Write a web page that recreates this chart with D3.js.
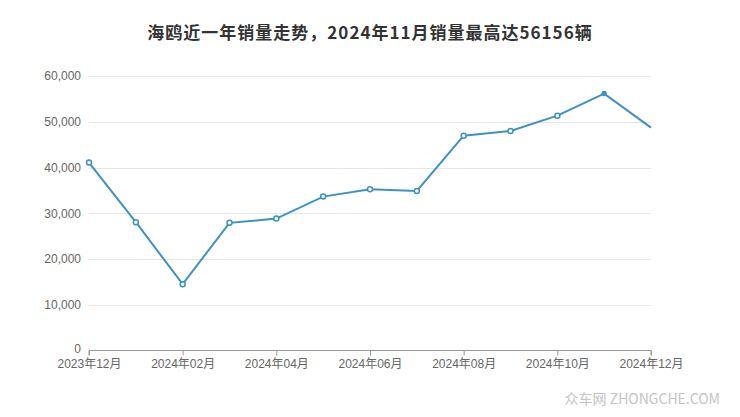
<!DOCTYPE html>
<html>
<head>
<meta charset="utf-8">
<script src="https://cdn.jsdelivr.net/npm/d3@7"></script>
<style>
html,body{margin:0;padding:0;background:#fff;}
svg{display:block;font-family:"Liberation Sans","DejaVu Sans","Noto Sans CJK SC",sans-serif;}
</style>
</head>
<body>
<svg id="chart" width="740" height="417"></svg>
<script>
const titleText = "海鸥近一年销量走势，2024年11月销量最高达56156辆";
const months = ["2023年12月","2024年01月","2024年02月","2024年03月","2024年04月","2024年05月","2024年06月","2024年07月","2024年08月","2024年09月","2024年10月","2024年11月","2024年12月"];
const sales = [41070, 28050, 14500, 27900, 28830, 33640, 35260, 34880, 46960, 47990, 51330, 56156, 48710];
const yTicks = [0, 10000, 20000, 30000, 40000, 50000, 60000];
const xTickLabels = ["2023年12月","2024年02月","2024年04月","2024年06月","2024年08月","2024年10月","2024年12月"];
const watermark = "众车网 ZHONGCHE.COM";

const svg = d3.select("#chart");
const m = {left: 89, right: 651, top: 76, bottom: 350.5};

const x = d3.scalePoint().domain(months).range([m.left, m.right]);
const y = d3.scaleLinear().domain([0, 60000]).range([m.bottom, m.top]);

// title
svg.append("text")
  .attr("x", 370).attr("y", 39)
  .attr("text-anchor", "middle")
  .attr("font-size", 17).attr("font-weight", "bold")
  .attr("letter-spacing", 1.0)
  .attr("fill", "#333")
  .attr("font-family", "'Noto Sans CJK SC', sans-serif")
  .text(titleText);

// grid
svg.append("g").selectAll("line").data(yTicks.filter(d => d > 0)).join("line")
  .attr("x1", m.left).attr("x2", m.right)
  .attr("y1", d => Math.round(y(d)) + 0.5).attr("y2", d => Math.round(y(d)) + 0.5)
  .attr("stroke", "#e6e6e6").attr("stroke-width", 1);

// y axis labels
const yAxis = d3.axisLeft(y).tickValues(yTicks).tickSize(0).tickPadding(8)
  .tickFormat(d3.format(","));
const gy = svg.append("g").attr("transform", `translate(${m.left},0)`).call(yAxis);
gy.select(".domain").remove();
gy.selectAll("text").attr("fill", "#666").attr("font-size", 12)
  .attr("font-family", "'Liberation Sans', sans-serif");
gy.selectAll(".tick").filter(d => d === 0).select("text").attr("dy", "0.2em");

// x axis
const xAxis = d3.axisBottom(x).tickValues(xTickLabels).tickSize(5).tickPadding(4);
const gx = svg.append("g").attr("transform", `translate(0,${m.bottom})`).call(xAxis);
gx.select(".domain").attr("stroke", "#999").attr("d", `M${m.left},5V0H${m.right}V5`);
gx.selectAll(".tick line").attr("stroke", "#999");
gx.selectAll("text").attr("fill", "#666").attr("font-size", 12)
  .attr("font-family", "'Liberation Sans','Noto Sans CJK SC', sans-serif");

// line
const line = d3.line().x((d, i) => x(months[i])).y(d => y(d));
svg.append("path").datum(sales)
  .attr("d", line).attr("fill", "none")
  .attr("stroke", "#3c92c7").attr("stroke-width", 2);

// markers
const maxIdx = sales.indexOf(d3.max(sales));
svg.append("g").selectAll("circle")
  .data(sales.map((v, i) => ({v, i})).filter(d => d.i < sales.length - 1))
  .join("circle")
  .attr("cx", d => x(months[d.i])).attr("cy", d => y(d.v))
  .attr("r", d => d.i === maxIdx ? 2 : 2.5)
  .attr("fill", d => d.i === maxIdx ? "#3c92c7" : "#fff")
  .attr("stroke", "#3c92c7").attr("stroke-width", 1.5);

// watermark
svg.append("text")
  .attr("x", 720).attr("y", 404)
  .attr("text-anchor", "end")
  .attr("font-size", 14).attr("fill", "#c4c4c4")
  .attr("font-family", "'Noto Sans CJK SC', sans-serif")
  .text(watermark);
</script>
</body>
</html>
